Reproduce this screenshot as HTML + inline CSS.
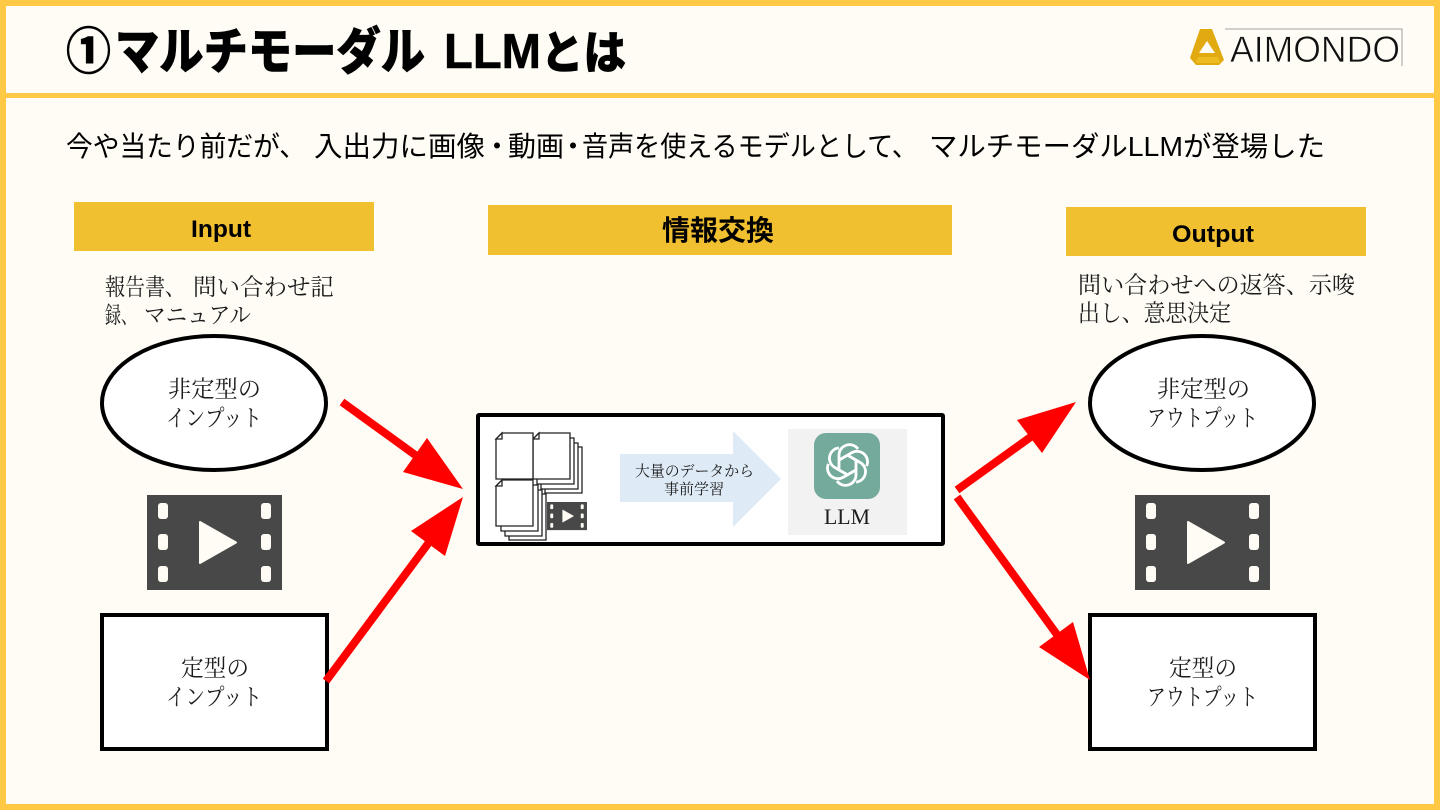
<!DOCTYPE html>
<html lang="ja"><head><meta charset="utf-8"><style>
html,body{margin:0;padding:0;background:#fffcf5}
svg{display:block}
text{font-family:"Liberation Sans","Noto Sans CJK JP",sans-serif;fill:#000}
text.s{font-family:"Liberation Serif","Noto Serif CJK JP","Noto Serif CJK SC",serif;fill:#1c1c1c}
.t{stroke:#000;stroke-width:.6;font-weight:900}
</style></head><body>
<svg width="1440" height="810" viewBox="0 0 1440 810" xmlns="http://www.w3.org/2000/svg">
<defs>
<g id="film"><rect width="135" height="95" fill="#484848"/>
<g fill="#fffcf5"><rect x="11" y="8" width="10" height="16" rx="3"/><rect x="11" y="39" width="10" height="16" rx="3"/><rect x="11" y="71" width="10" height="16" rx="3"/><rect x="114" y="8" width="10" height="16" rx="3"/><rect x="114" y="39" width="10" height="16" rx="3"/><rect x="114" y="71" width="10" height="16" rx="3"/><path d="M53 27 L89 47.500 L53 68Z" stroke="#fffcf5" stroke-width="2" stroke-linejoin="round"/></g></g>
<g id="doc2"><path d="M6 0H37V46H0V6Z" fill="#fff" stroke="#222" stroke-width="1.300"/><path d="M0 6L6 6V0Z" fill="#fff" stroke="#222" stroke-width="1.300"/></g>
<path id="hook" d="M-8.500 5 V-10 A10.500 10.500 0 0 1 10.500 -16" fill="none" stroke="#fff" stroke-width="2.800"/>
</defs>
<rect width="1440" height="810" fill="#fffcf5"/>
<rect x="3" y="3" width="1434" height="804" fill="none" stroke="#ffc845" stroke-width="6"/>
<rect x="6" y="93" width="1428" height="5" fill="#ffc845"/>

<text class="t" x="66" y="69" font-size="50" textLength="45" lengthAdjust="spacingAndGlyphs">①</text>
<text class="t" x="115" y="69" font-size="50" textLength="310" lengthAdjust="spacingAndGlyphs">マルチモーダル</text>
<text x="444" y="68" font-size="49" font-weight="700" textLength="97" lengthAdjust="spacingAndGlyphs" style="stroke:#000;stroke-width:.6">LLM</text>
<text class="t" x="541" y="69" font-size="46" textLength="85" lengthAdjust="spacingAndGlyphs">とは</text>

<path d="M1200 29 H1212 L1224 60 L1219 65 H1196 L1190 58Z" fill="#e0aa10"/><path d="M1199 53L1207 41L1215 53Z" fill="#fffcf5"/><path d="M1198 57H1218L1220 63H1196Z" fill="#eebb22"/>
<path d="M1225 29H1402V66" fill="none" stroke="#888" stroke-width="0.8"/>
<text x="1230" y="62" font-size="37" textLength="170" lengthAdjust="spacingAndGlyphs" style="fill:#111;stroke:#fffcf5;stroke-width:.7;paint-order:normal">AIMONDO</text>

<g font-size="28">
<text x="66" y="156" textLength="240" lengthAdjust="spacingAndGlyphs">今や当たり前だが、</text>
<text x="314" y="156" textLength="171" lengthAdjust="spacingAndGlyphs">入出力に画像</text>
<text x="497" y="156" text-anchor="middle">・</text>
<text x="508" y="156" textLength="56" lengthAdjust="spacingAndGlyphs">動画</text>
<text x="573" y="156" text-anchor="middle">・</text>
<text x="582" y="156" textLength="336" lengthAdjust="spacingAndGlyphs">音声を使えるモデルとして、</text>
<text x="929" y="156" textLength="396" lengthAdjust="spacingAndGlyphs">マルチモーダルLLMが登場した</text>
</g>

<rect x="74" y="202" width="300" height="49" fill="#f0c030"/>
<rect x="488" y="205" width="464" height="50" fill="#f0c030"/>
<rect x="1066" y="207" width="300" height="49" fill="#f0c030"/>
<text x="221" y="237" font-size="24" font-weight="700" text-anchor="middle" textLength="60" lengthAdjust="spacingAndGlyphs">Input</text>
<text x="718" y="240" font-size="28" font-weight="700" text-anchor="middle" textLength="112" lengthAdjust="spacingAndGlyphs">情報交換</text>
<text x="1213" y="242" font-size="24" font-weight="700" text-anchor="middle" textLength="82" lengthAdjust="spacingAndGlyphs">Output</text>

<g font-size="23.500">
<text class="s" x="105" y="295" textLength="80" lengthAdjust="spacingAndGlyphs">報告書、</text>
<text class="s" x="193" y="295" textLength="141" lengthAdjust="spacingAndGlyphs">問い合わせ記</text>
<text class="s" x="105" y="323" textLength="32" lengthAdjust="spacingAndGlyphs">録、</text>
<text class="s" x="144" y="323" textLength="107" lengthAdjust="spacingAndGlyphs">マニュアル</text>
<text class="s" x="1078" y="293" textLength="277" lengthAdjust="spacingAndGlyphs">問い合わせへの返答、示唆</text>
<text class="s" x="1078" y="321" textLength="153" lengthAdjust="spacingAndGlyphs">出し、意思決定</text>
</g>

<g fill="#fff" stroke="#000" stroke-width="4">
<ellipse cx="214" cy="403" rx="112" ry="67"/>
<ellipse cx="1202" cy="403" rx="112" ry="67"/>
<rect x="102" y="615" width="225" height="134"/>
<rect x="1090" y="615" width="225" height="134"/>
</g>
<g font-size="23.500">
<text class="s" x="168" y="397" textLength="93" lengthAdjust="spacingAndGlyphs">非定型の</text><text class="s" x="166" y="426" textLength="96" lengthAdjust="spacingAndGlyphs">インプット</text>
<text class="s" x="1157" y="397" textLength="93" lengthAdjust="spacingAndGlyphs">非定型の</text><text class="s" x="1147" y="426" textLength="111" lengthAdjust="spacingAndGlyphs">アウトプット</text>
<text class="s" x="181" y="676" textLength="68" lengthAdjust="spacingAndGlyphs">定型の</text><text class="s" x="166" y="705" textLength="96" lengthAdjust="spacingAndGlyphs">インプット</text>
<text class="s" x="1169" y="676" textLength="68" lengthAdjust="spacingAndGlyphs">定型の</text><text class="s" x="1147" y="705" textLength="111" lengthAdjust="spacingAndGlyphs">アウトプット</text>
</g>

<use href="#film" x="147" y="495"/>
<use href="#film" x="1135" y="495"/>

<rect x="478" y="415" width="465" height="129" fill="#fff" stroke="#000" stroke-width="4" rx="1"/>
<use href="#doc2" x="545" y="447"/><use href="#doc2" x="541" y="443"/><use href="#doc2" x="537" y="438"/><use href="#doc2" x="533" y="433"/>
<use href="#doc2" x="509" y="494"/><use href="#doc2" x="505" y="490"/><use href="#doc2" x="501" y="485"/><use href="#doc2" x="496" y="480"/>
<use href="#doc2" x="496" y="433"/>
<g transform="translate(547 502) scale(.296)"><use href="#film"/></g>

<path d="M620 454H733V431L781 479L733 527V502H620Z" fill="#deeaf6"/>
<text class="s" x="635" y="476" font-size="15" textLength="119" lengthAdjust="spacingAndGlyphs">大量のデータから</text>
<text class="s" x="664" y="494" font-size="15" textLength="60" lengthAdjust="spacingAndGlyphs">事前学習</text>

<rect x="788" y="429" width="119" height="106" fill="#f2f2f2"/>
<rect x="814" y="433" width="66" height="66" rx="12" fill="#74aa9c"/>
<g transform="translate(847.500 465)">
<use href="#hook"/><use href="#hook" transform="rotate(60)"/><use href="#hook" transform="rotate(120)"/><use href="#hook" transform="rotate(180)"/><use href="#hook" transform="rotate(240)"/><use href="#hook" transform="rotate(300)"/>
</g>
<text class="s" x="824" y="524" font-size="22" textLength="46" lengthAdjust="spacingAndGlyphs">LLM</text>

<g stroke="#ff0000" stroke-width="8" fill="none">
<line x1="342" y1="402" x2="418" y2="457"/>
<line x1="326" y1="681" x2="430" y2="541"/>
<line x1="957" y1="490" x2="1032" y2="436"/>
<line x1="957" y1="497" x2="1058" y2="636"/>
</g>
<g fill="#ff0000">
<path d="M463 489 L427 438 L403 472Z"/>
<path d="M463 497 L411 531 L445 556Z"/>
<path d="M1076 402 L1017 420 L1042 453Z"/>
<path d="M1090 680 L1039 647 L1073 622Z"/>
</g>
</svg>
</body></html>
